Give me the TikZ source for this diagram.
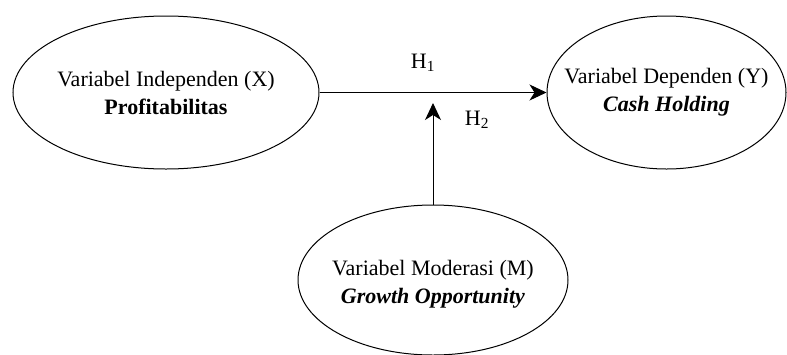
\documentclass[tikz,border=0pt]{standalone}
\usepackage{fontspec}
\setmainfont{Liberation Serif}
\usetikzlibrary{shapes.geometric,arrows.meta}

\begin{document}
\begin{tikzpicture}[x=1pt,y=1pt,line width=1pt,
  ell/.style={ellipse,draw,inner sep=0pt,minimum height=153pt},
  txt/.style={align=center,inner sep=0pt,font=\fontsize{22}{28}\selectfont},
  hyp/.style={inner sep=0pt,font=\fontsize{22}{26}\selectfont},
  link/.style={-{Stealth[length=17pt,width=16pt,inset=5pt]}}]
\useasboundingbox (0,0) rectangle (787,-354);
\node[ell,minimum width=306pt] (X) at (166,-92.5) {};
\node[ell,minimum width=239pt] (Y) at (666.5,-92.5) {};
\node[ell,minimum width=270pt,minimum height=150pt] (M) at (433,-280) {};
\node[txt] (tX) at (X) {Variabel Independen (X)\\\textbf{Profitabilitas}};
\node[txt] (tY) at (Y) {Variabel Dependen (Y)\\\textbf{\textit{Cash Holding}}};
\node[txt] (tM) at ([yshift=-4pt]M.center) {Variabel Moderasi (M)\\\textbf{\textit{Growth Opportunity}}};
\coordinate (mod) at (433,-103);
\draw[link] (X.east) -- (Y.west);
\draw[link] (M.north) -- (mod);
\node[hyp] (h1) at (423,-63) {H\textsubscript{1}};
\node[hyp] (h2) at (477,-120) {H\textsubscript{2}};
\end{tikzpicture}
\end{document}
